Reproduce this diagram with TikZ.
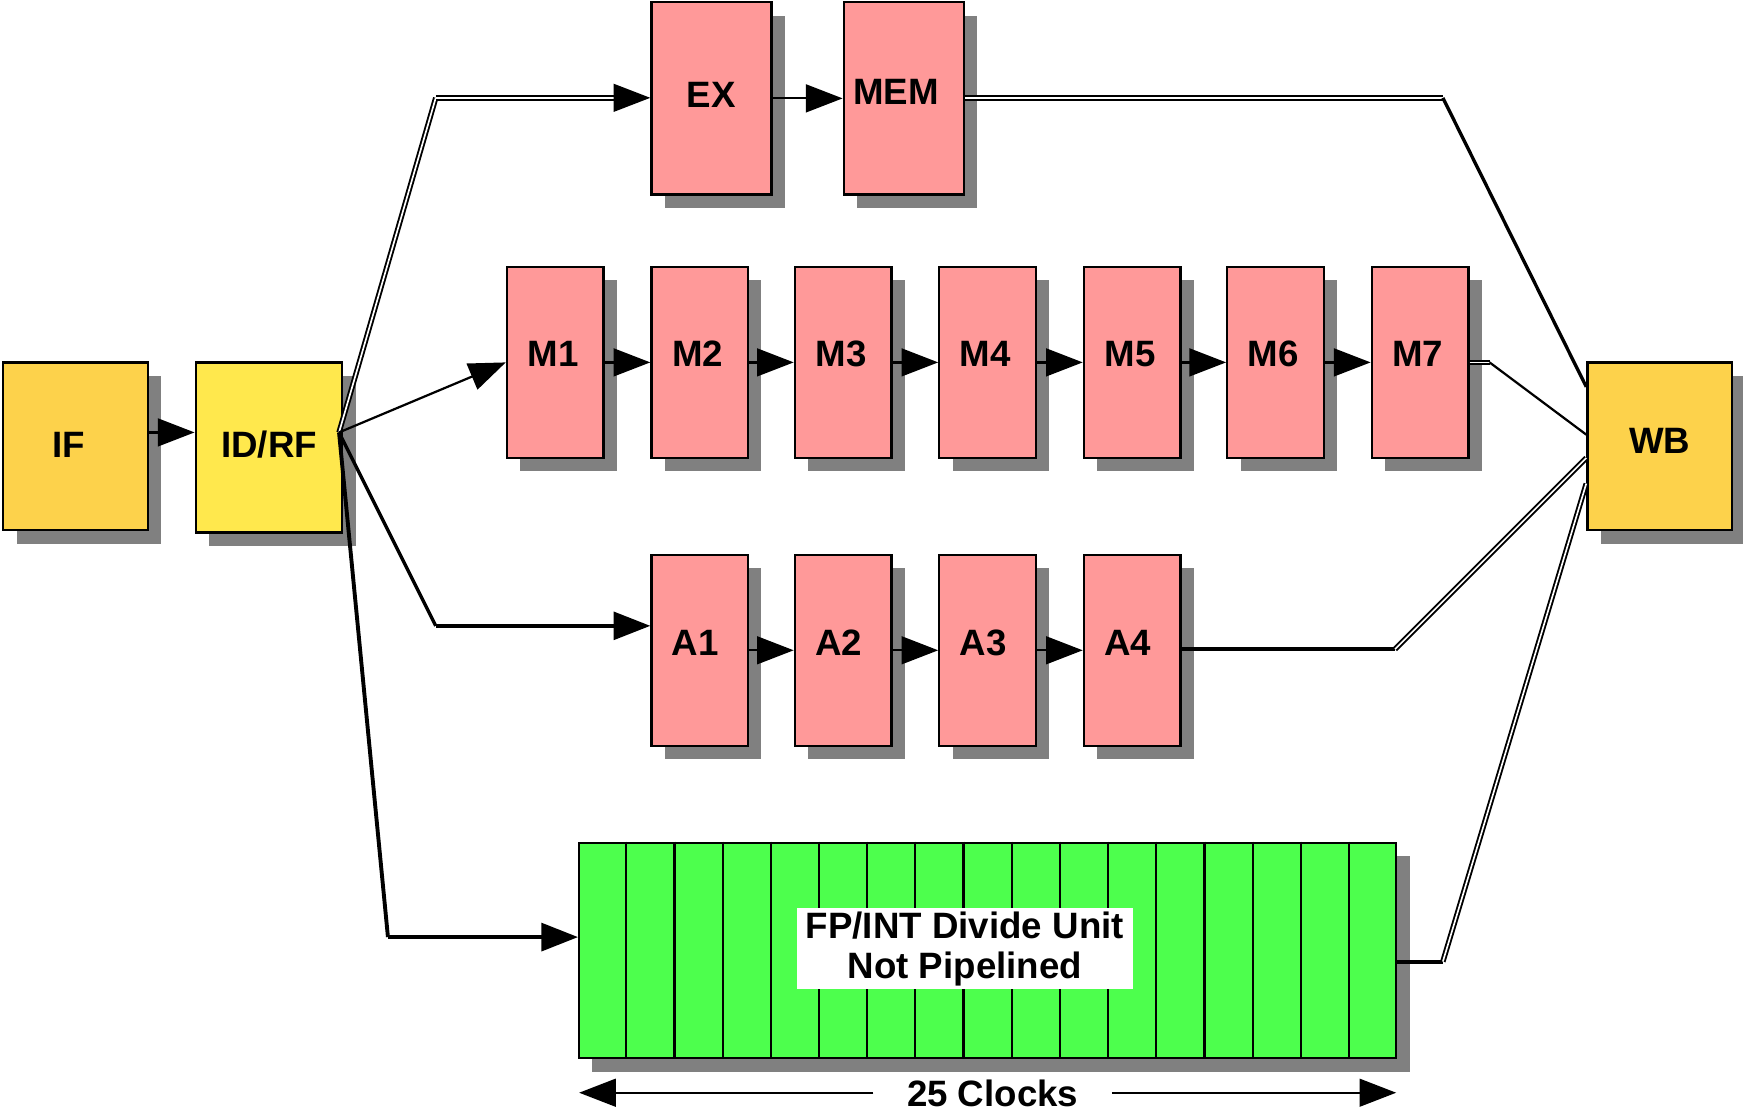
\documentclass[tikz,border=0pt]{standalone}
\usepackage{fontspec}
\setmainfont{Liberation Sans}
\usetikzlibrary{arrows.meta,shadows,calc}
\definecolor{goldbox}{HTML}{FDD24B}
\definecolor{yellowbox}{HTML}{FFE84D}
\definecolor{pinkbox}{HTML}{FF9999}
\definecolor{greenbox}{HTML}{4DFF4D}
\definecolor{shadowgray}{HTML}{808080}
\begin{document}
\begin{tikzpicture}[x=1pt,y=-1pt,
  box/.style={draw=black, line width=2pt, rectangle, inner sep=0pt,
    drop shadow={shadow xshift=12pt, shadow yshift=-12pt, fill=shadowgray, opacity=1},
    font=\fontsize{33}{38}\selectfont\bfseries, text height=24pt},
  goldstage/.style={box, fill=goldbox, minimum width=130pt, minimum height=151pt},
  idstage/.style={box, fill=yellowbox, minimum width=132pt, minimum height=153pt},
  exstage/.style={box, fill=pinkbox, minimum width=108pt, minimum height=173pt},
  pipestage/.style={box, fill=pinkbox, minimum width=87pt, minimum height=172pt},
  tipped/.style={-{Triangle[length=33pt,width=25pt]}},
  thinline/.style={line width=2pt},
  thickline/.style={line width=3.5pt},
  medline/.style={line width=3pt},
  dblline/.style={line width=1.7pt, double=white, double distance=1.5pt},
]
\useasboundingbox (0,0) rectangle (1568,999);

% stage boxes
\node[goldstage, text depth=3pt] (IF) at (68,401.5) {IF\hspace*{12pt}};
\node[idstage, text depth=5pt] (IDRF) at (242,402.5) {ID/RF};
\node[exstage, text depth=7pt] (EX) at (640,88.5) {EX};
\node[exstage, text depth=13pt] (MEM) at (813,88.5) {MEM\hspace*{14pt}};
\node[pipestage, text depth=16pt] (M1) at (499.5,326) {M1\hspace*{4pt}};
\node[pipestage, text depth=16pt] (M2) at (629.5,326) {M2\hspace*{4pt}};
\node[pipestage, text depth=16pt] (M3) at (758.5,326) {M3\hspace*{4pt}};
\node[pipestage, text depth=16pt] (M4) at (888.5,326) {M4\hspace*{4pt}};
\node[pipestage, text depth=16pt] (M5) at (1018.5,326) {M5\hspace*{4pt}};
\node[pipestage, text depth=16pt] (M6) at (1147.5,326) {M6\hspace*{4pt}};
\node[pipestage, text depth=16pt] (M7) at (1277.5,326) {M7\hspace*{4pt}};
\node[pipestage, text depth=14pt] (A1) at (629.5,585) {A1\hspace*{8pt}};
\node[pipestage, text depth=14pt] (A2) at (758.5,585) {A2\hspace*{8pt}};
\node[pipestage, text depth=14pt] (A3) at (888.5,585) {A3\hspace*{8pt}};
\node[pipestage, text depth=14pt] (A4) at (1018.5,585) {A4\hspace*{8pt}};
\node[goldstage, text depth=11pt] (WB) at (1493,401.5) {WB};

% divide unit
\node[box, fill=greenbox, minimum width=735pt, minimum height=194pt] (DIV) at (888.5,855) {};
\foreach \i in {1,...,16}
  \draw[thinline] ($(DIV.north west)!\i/17!(DIV.north east)$) -- ($(DIV.south west)!\i/17!(DIV.south east)$);
\node[fill=white, inner sep=0pt, minimum width=302pt, minimum height=73pt, align=center,
  font=\fontsize{33}{36}\selectfont\bfseries] (LBL) at (868,853.5) {FP/INT Divide Unit\\Not Pipelined};

% bend points
\coordinate (fan) at (305,389);
\coordinate (bEX) at (392,88);
\coordinate (bA) at (392,563);
\coordinate (bDIV) at (349,843);
\coordinate (bMEM) at (1298,88);
\coordinate (bM7) at (1340,326);
\coordinate (bA4) at (1255,584);
\coordinate (bDo) at (1298,865);

% IF -> ID/RF
\draw[thinline, tipped] ([yshift=12.5pt]IF.east) -- ([yshift=13.5pt]IDRF.west);

% fan out from ID/RF
\draw[dblline] (fan) -- (bEX);
\draw[dblline, tipped] (bEX) -- (EX.west |- bEX);
\draw[thinline, tipped] (fan) -- (M1.west);
\draw[medline] (fan) -- (bA);
\draw[medline, tipped] (bA) -- (A1.west |- bA);
\draw[thickline] (fan) -- (bDIV);
\draw[thickline, tipped] (bDIV) -- (DIV.west |- bDIV);

% chains
\draw[thinline, tipped] (EX.east) -- (MEM.west);
\draw[thinline, tipped] (M1.east) -- (M2.west);
\draw[thinline, tipped] (M2.east) -- (M3.west);
\draw[thinline, tipped] (M3.east) -- (M4.west);
\draw[thinline, tipped] (M4.east) -- (M5.west);
\draw[thinline, tipped] (M5.east) -- (M6.west);
\draw[thinline, tipped] (M6.east) -- (M7.west);
\draw[thinline, tipped] (A1.east) -- (A2.west);
\draw[thinline, tipped] (A2.east) -- (A3.west);
\draw[thinline, tipped] (A3.east) -- (A4.west);

% outputs to WB
\draw[dblline] (MEM.east |- bMEM) -- (bMEM);
\draw[medline] (bMEM) -- ([yshift=53.5pt]WB.west);
\draw[dblline] (M7.east) -- (bM7);
\draw[thinline] (bM7) -- ([yshift=10.5pt]WB.west);
\draw[thickline] (A4.east |- bA4) -- (bA4);
\draw[dblline] (bA4) -- ([yshift=-10.5pt]WB.west);
\draw[thickline] (DIV.east |- bDo) -- (bDo);
\draw[dblline] (bDo) -- ([yshift=-33.5pt]WB.west);

% 25 clocks
\node[font=\fontsize{33}{38}\selectfont\bfseries, text height=24pt, text depth=0pt,
  inner xsep=30pt, inner ysep=0pt] (CLK) at (893,983) {25 Clocks};
\coordinate (clkL) at (521,983);
\coordinate (clkR) at (1256,983);
\draw[thinline, tipped] (CLK.west) -- (clkL);
\draw[thinline, tipped] (CLK.east) -- (clkR);
\end{tikzpicture}
\end{document}
